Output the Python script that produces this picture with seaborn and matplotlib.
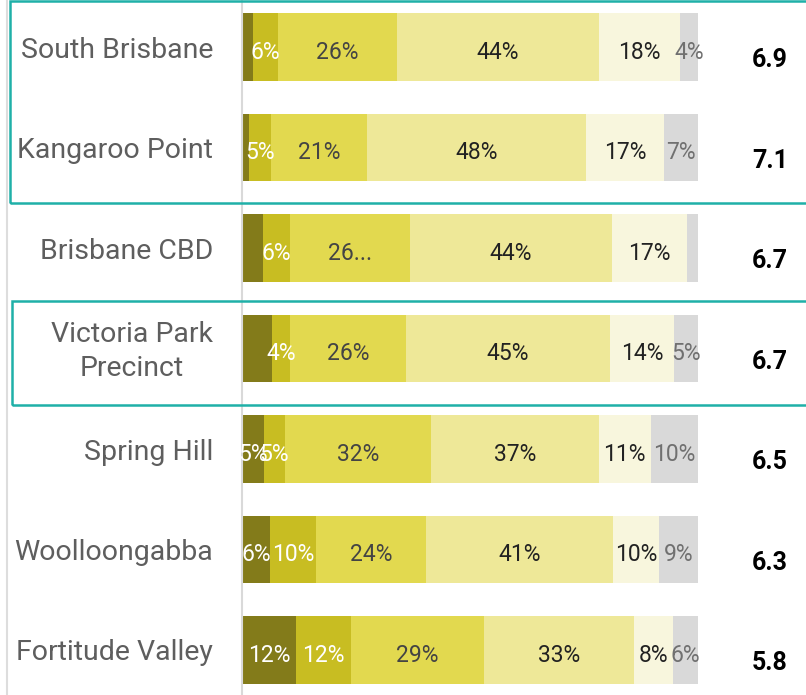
import numpy as np
import pandas as pd
import seaborn as sns
import matplotlib.pyplot as plt
import matplotlib.transforms as mtransforms
from matplotlib.patches import Rectangle
from matplotlib.lines import Line2D

sns.set_theme(style="white")
plt.rcParams['font.family'] = ['Roboto', 'DejaVu Sans']

# ---- data ----
areas = ["South Brisbane", "Kangaroo Point", "Brisbane CBD", "Victoria Park\nPrecinct",
         "Spring Hill", "Woolloongabba", "Fortitude Valley"]
scores = ["6.9", "7.1", "6.7", "6.7", "6.5", "6.3", "5.8"]

seg1 = [2.1, 1.4, 4.3, 6.3, 4.6, 6.0, 11.6]
seg2 = [5.6, 4.8, 6.1, 4.0, 4.6, 10.1, 12.2]
seg3 = [26.2, 21.1, 26.2, 25.6, 32.1, 24.2, 29.2]
seg4 = [44.3, 48.1, 44.4, 44.7, 36.9, 41.1, 33.0]
seg5 = [17.9, 17.1, 16.6, 14.2, 11.4, 10.0, 8.4]
seg6 = [3.9, 7.5, 2.4, 5.2, 10.4, 8.6, 5.6]

# labels as they appear on the bars ("" = hidden)
bar_labels = [
    ["", "6%", "26%", "44%", "18%", "4%"],
    ["", "5%", "21%", "48%", "17%", "7%"],
    ["", "6%", "26...", "44%", "17%", ""],
    ["", "4%", "26%", "45%", "14%", "5%"],
    ["5%", "5%", "32%", "37%", "11%", "10%"],
    ["6%", "10%", "24%", "41%", "10%", "9%"],
    ["12%", "12%", "29%", "33%", "8%", "6%"],
]

seg_cols = ["seg1", "seg2", "seg3", "seg4", "seg5", "seg6"]
seg_colors = ["#837B1A", "#C8BD22", "#E2D94F", "#EEE898", "#F8F6DD", "#D9D9D9"]
txt_colors = ["white", "white", "#444444", "#222222", "#222222", "#707070"]

df = pd.DataFrame({"area": areas, "seg1": seg1, "seg2": seg2, "seg3": seg3,
                   "seg4": seg4, "seg5": seg5, "seg6": seg6})
cum = df[seg_cols].cumsum(axis=1)
cum["area"] = df["area"]

fig = plt.figure(figsize=(8.06, 6.95), dpi=100)
ax = fig.add_axes([243 / 806, 0, 455 / 806, 1])

# stacked bars: draw cumulative totals from longest to shortest
for k in range(len(seg_cols) - 1, -1, -1):
    sns.barplot(data=cum, x=seg_cols[k], y="area", orient="h", color=seg_colors[k],
                saturation=1, width=0.67, linewidth=0, ax=ax)

for i in range(len(areas)):
    left = 0
    for k, col in enumerate(seg_cols):
        v = df.loc[i, col]
        if bar_labels[i][k]:
            ax.text(left + v / 2, i + 0.05, bar_labels[i][k], ha="center", va="center",
                    fontsize=16.5, color=txt_colors[k])
        left += v
    ax.text(115.8, i + 0.13, scores[i], ha="center", va="center", fontsize=18,
            fontweight="bold", color="black", clip_on=False)

ax.set_xlim(0, 100)
ax.set_ylim(6.448, -0.468)
ax.set_xlabel("")
ax.set_ylabel("")
ax.set_xticks([])

# category names as text so the two-line one can be centred on itself
ax.set_yticks(np.arange(0.5, len(areas) - 1, 1))
ax.set_yticklabels([])
ax.tick_params(axis="y", length=7.2, width=1.5, color="#D9D9D9")
trans = mtransforms.blended_transform_factory(ax.transAxes, ax.transData)
for i, name in enumerate(areas):
    ax.text(-30 / 455, i + 0.03, name, transform=trans, ha="right", va="center",
            multialignment="center", linespacing=1.3, fontsize=20.5, color="#5E5E5E")

for s in ["top", "right", "bottom"]:
    ax.spines[s].set_visible(False)
ax.spines["left"].set_color("#D9D9D9")
ax.spines["left"].set_linewidth(1.5)
ax.spines["left"].set_position(("outward", 1))

# outer light grey line at far left
fig.add_artist(Line2D([7 / 806, 7 / 806], [0, 1], color="#DDDDDD", lw=1.5))

# teal highlight boxes
W, H = 806, 695
fig.add_artist(Rectangle((10 / W, (H - 203) / H), 1.0, 202 / H, transform=fig.transFigure,
                         fill=False, edgecolor="#1FB0A8", lw=1.8))
fig.add_artist(Rectangle((12 / W, (H - 404.5) / H), 1.0, 103.5 / H, transform=fig.transFigure,
                         fill=False, edgecolor="#1FB0A8", lw=1.8))

fig.savefig("out.png", dpi=100)
